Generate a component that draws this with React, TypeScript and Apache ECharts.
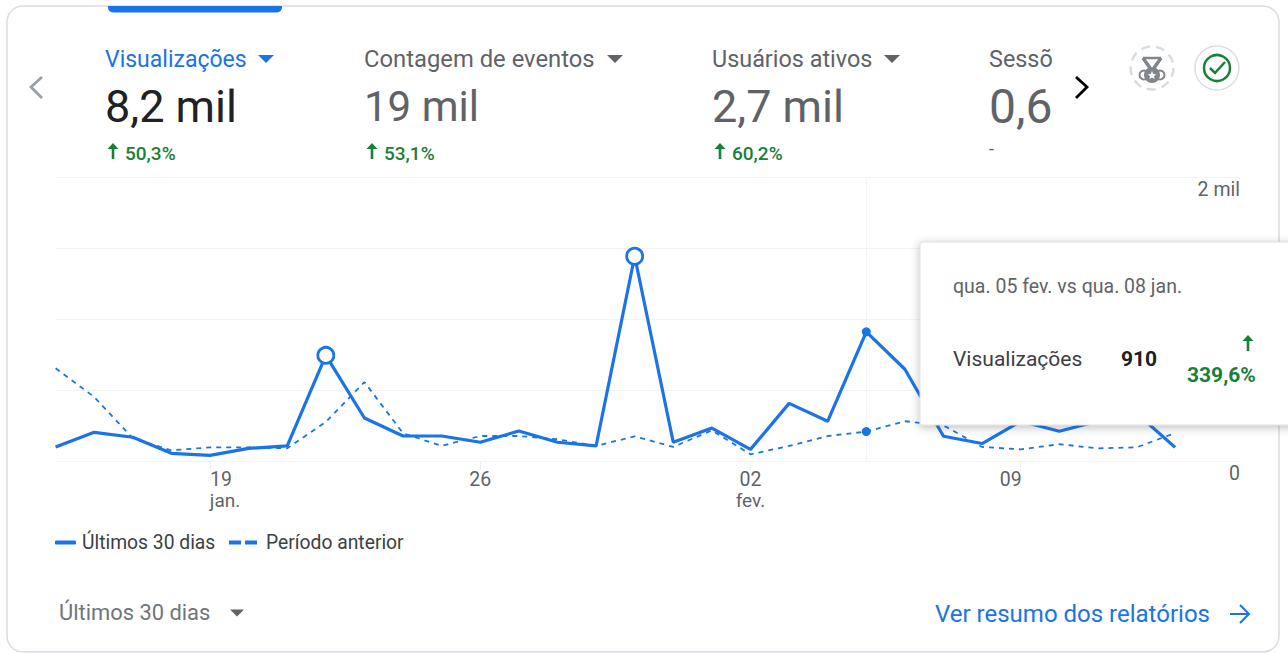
import React, { useEffect, useRef } from "react";
import * as echarts from "echarts";

const dayIndex = Array.from({ length: 30 }, (_, i) => i);
const currentValues = [99, 202, 167, 54, 40, 89, 106, 744, 303, 176, 176, 132, 211, 132, 106, 1442, 132, 232, 82, 406, 280, 910, 646, 174, 123, 280, 209, 280, 336, 96];
const previousValues = [653, 451, 160, 75, 96, 96, 89, 275, 556, 195, 106, 176, 176, 153, 106, 174, 99, 216, 47, 106, 176, 207, 280, 251, 99, 82, 118, 89, 96, 197];
const tickLabels: Record<number, [string, string]> = { 4: ["19", "jan."], 11: ["26", ""], 18: ["02", "fev."], 25: ["09", ""] };
const hollowDays = [7, 15];
const hoverDay = 21;
const currentName = "Últimos 30 dias";
const previousName = "Período anterior";
const metrics = [
  { label: "Visualizações", value: "8,2 mil", delta: "50,3%", active: true },
  { label: "Contagem de eventos", value: "19 mil", delta: "53,1%", active: false },
  { label: "Usuários ativos", value: "2,7 mil", delta: "60,2%", active: false },
  { label: "Sessões", value: "0,6 mil", delta: "-", active: false },
];

const BLUE = "#1a73e8";
const GREEN = "#188038";
const GRAY = "#5f6368";
const FONT = "Roboto";
const metricX = [105, 364, 712, 989];
const labelSizes = [23, 23.8, 23.4, 23.4];
const valueSizes = [45, 42, 45, 48];

const txt = (x: number, y: number, text: string, fontSize: number, fill: string, extra: any = {}) => ({
  type: "text", x, y, z: 100,
  style: { text, fontSize, fill, fontFamily: FONT, verticalAlign: "middle", align: "left", ...extra },
});
const caret = (cx: number, cy: number, w: number, fill: string) => ({
  type: "polygon", z: 100,
  shape: { points: [[cx - w / 2, cy - w / 4], [cx + w / 2, cy - w / 4], [cx, cy + w / 4]] },
  style: { fill },
});
const poly = (points: number[][], stroke: string, lineWidth: number, z = 100) => ({
  type: "polyline", z, shape: { points }, style: { stroke, lineWidth, fill: "none" },
});
const upArrow = (cx: number, top: number, h: number, color: string, z = 100) => [
  { type: "rect", z, shape: { x: cx - 1.3, y: top + 4, width: 2.6, height: h - 4 }, style: { fill: color } },
  { type: "polygon", z, shape: { points: [[cx, top], [cx + 5.5, top + 6], [cx - 5.5, top + 6]] }, style: { fill: color } },
];

function buildGraphics() {
  const els: any[] = [];
  els.push({ type: "rect", z: -1, shape: { x: 7, y: 6, width: 1272, height: 646, r: 16 }, style: { fill: "#fff", stroke: "#dadce0", lineWidth: 1.5 } });
  els.push({ type: "rect", z: 100, shape: { x: 108, y: 6, width: 174, height: 6.5, r: [0, 0, 5, 5] }, style: { fill: BLUE } });
  metrics.forEach((m, i) => {
    const x = metricX[i];
    els.push(txt(x, 59, m.label, labelSizes[i], m.active ? BLUE : GRAY));
    els.push(txt(x, 106, m.value, valueSizes[i], m.active ? "#202124" : GRAY));
    if (m.delta === "-") {
      els.push(txt(x, 148, m.delta, 18, GRAY));
    } else {
      els.push(...upArrow(x + 8, 143, 16, GREEN));
      els.push(txt(x + 20, 153, m.delta, 19, GREEN, { fontWeight: 500 }));
    }
  });
  els.push(caret(266, 59, 16, BLUE), caret(615, 59, 16, GRAY), caret(892, 59, 16, GRAY));
  els.push({ type: "rect", z: 101, shape: { x: 1053, y: 40, width: 80, height: 90 }, style: { fill: "#fff" } });
  els.push({ ...poly([[42, 77], [31, 87], [42, 98]], "#9aa0a6", 2.8) });
  els.push({ ...poly([[1076, 77], [1087, 87], [1076, 98]], "#000", 2.8), z: 102 });
  // medal badge
  els.push({ type: "circle", z: 102, shape: { cx: 1152, cy: 68, r: 21.5 }, style: { fill: "#fff", stroke: "#dadce0", lineWidth: 2.5, lineDash: [9, 6] } });
  els.push({ ...poly([[1143, 58], [1150, 68]], "#80868b", 3.5), z: 103 });
  els.push({ ...poly([[1161, 58], [1154, 68]], "#80868b", 3.5), z: 103 });
  els.push({ ...poly([[1143, 58], [1161, 58]], "#80868b", 2.5), z: 103 });
  els.push({ type: "circle", z: 103, shape: { cx: 1144, cy: 75, r: 4.5 }, style: { fill: "#fff", stroke: "#80868b", lineWidth: 2 } });
  els.push({ type: "circle", z: 103, shape: { cx: 1160, cy: 75, r: 4.5 }, style: { fill: "#fff", stroke: "#80868b", lineWidth: 2 } });
  els.push({ type: "circle", z: 104, shape: { cx: 1152, cy: 75, r: 8 }, style: { fill: "#80868b" } });
  els.push({ type: "polygon", z: 105, shape: { points: [[1152, 71], [1153.2, 74], [1156, 74.3], [1154, 76.2], [1154.6, 79], [1152, 77.6], [1149.4, 79], [1150, 76.2], [1148, 74.3], [1150.8, 74]] }, style: { fill: "#fff" } });
  // check badge
  els.push({ type: "circle", z: 102, shape: { cx: 1217, cy: 68, r: 22 }, style: { fill: "#fff", stroke: "#dadce0", lineWidth: 1.5 } });
  els.push({ type: "circle", z: 103, shape: { cx: 1217, cy: 68, r: 13 }, style: { fill: "none", stroke: GREEN, lineWidth: 2.5 } });
  els.push({ ...poly([[1210, 68], [1215, 73], [1225, 62]], GREEN, 2.5), z: 103 });
  // tooltip
  els.push({ type: "rect", z: 110, shape: { x: 920, y: 242, width: 420, height: 183, r: 2 }, style: { fill: "#fff", stroke: "#e0e0e0", lineWidth: 1, shadowBlur: 8, shadowColor: "rgba(60,64,67,0.35)", shadowOffsetY: 2 } });
  const tip = (e: any) => ({ ...e, z: 111 });
  els.push(tip(txt(953, 286, "qua. 05 fev. vs qua. 08 jan.", 19.5, GRAY)));
  els.push(tip(txt(953, 359, "Visualizações", 21, "#3c4043")));
  els.push(tip(txt(1121, 359, "910", 21, "#202124", { fontWeight: 700 })));
  els.push(...upArrow(1248, 335, 16, GREEN, 111));
  els.push(tip(txt(1187, 375, "339,6%", 21, GREEN, { fontWeight: 700 })));
  // footer
  els.push(txt(59, 612, currentName, 21.9, "#70757a"));
  els.push(caret(237, 613, 14, GRAY));
  els.push(txt(935, 614, "Ver resumo dos relatórios", 24, BLUE));
  els.push(poly([[1230, 614], [1248, 614]], BLUE, 2));
  els.push(poly([[1240, 605], [1249, 614], [1240, 623]], BLUE, 2));
  return els;
}

function points(values: number[], hollow: number[], dotSize: number) {
  return values.map((v, i) => {
    if (hollow.includes(i)) {
      return { value: [dayIndex[i], v], symbol: "circle", symbolSize: 16, itemStyle: { color: "#fff", borderColor: BLUE, borderWidth: 2.8, opacity: 1 } };
    }
    if (i === hoverDay) {
      return { value: [dayIndex[i], v], symbol: "circle", symbolSize: dotSize, itemStyle: { color: BLUE, borderWidth: 0, opacity: 1 } };
    }
    return { value: [dayIndex[i], v], symbol: "none" };
  });
}

const labelRich = {
  d: { color: GRAY, fontFamily: FONT, fontSize: 19.5, lineHeight: 21 },
  jan: { color: GRAY, fontFamily: FONT, fontSize: 19, lineHeight: 21, padding: [0, 0, 0, 30] },
  day19: { color: GRAY, fontFamily: FONT, fontSize: 19.5, lineHeight: 21, padding: [0, 0, 0, 22] },
  day09: { color: GRAY, fontFamily: FONT, fontSize: 19.5, lineHeight: 21, padding: [0, 20, 0, 0] },
  fev: { color: GRAY, fontFamily: FONT, fontSize: 19, lineHeight: 21 },
};

export default function App() {
  const ref = useRef<HTMLDivElement>(null);
  useEffect(() => {
    document.body.style.margin = "0";
    document.documentElement.style.overflow = "hidden";
    const chart = echarts.init(ref.current!, undefined, { renderer: "svg" });
    const legendText = { color: "#3c4043", fontFamily: FONT, fontSize: 19.3 };
    chart.setOption({
      animation: false,
      backgroundColor: "transparent",
      grid: { left: 55.6, right: 48, top: 177, height: 284, containLabel: false },
      legend: [
        {
          data: [{ name: currentName, icon: "roundRect" }], left: 55, top: 533, itemWidth: 21, itemHeight: 4, padding: 0,
          textStyle: { ...legendText, padding: [0, 0, 0, 1] }, selectedMode: false,
        },
        {
          data: [{ name: previousName, icon: "path://M0 0h12v4H0zM16 0h12v4H16z" }], left: 229, top: 533, itemWidth: 28, itemHeight: 4, padding: 0,
          textStyle: { ...legendText, padding: [0, 0, 0, 4] }, selectedMode: false,
        },
      ],
      xAxis: {
        type: "value", min: 0, max: 30.68,
        splitLine: { show: false },
        axisLine: { show: true, lineStyle: { color: "#f1f3f4", width: 1 }, onZero: true },
        axisTick: { show: true, customValues: Object.keys(tickLabels).map(Number), length: 9, lineStyle: { color: "#eceef0" } },
        axisLabel: {
          customValues: Object.keys(tickLabels).map(Number),
          margin: 8,
          color: GRAY, fontFamily: FONT, fontSize: 19.5,
          showMinLabel: true, showMaxLabel: true,
          rich: labelRich,
          formatter: (v: number) => {
            const t = tickLabels[v];
            if (!t) return "";
            if (t[0] === "19") return `{day19|${t[0]}}\n{jan|${t[1]}}`;
            if (t[0] === "09") return `{day09|${t[0]}}`;
            if (t[1]) return `{d|${t[0]}}\n{fev|${t[1]}}`;
            return `{d|${t[0]}}`;
          },
        },
      },
      yAxis: {
        type: "value", min: 0, max: 2000, interval: 500, position: "right",
        axisLine: { show: false }, axisTick: { show: false },
        splitLine: { show: true, lineStyle: { color: "#f1f3f4", width: 1 } },
        axisLabel: {
          inside: true, margin: 0, align: "right", verticalAlign: "top", padding: [2, 0, 0, 0],
          customValues: [0, 2000],
          color: GRAY, fontFamily: FONT, fontSize: 19.5,
          formatter: (v: number) => (v === 2000 ? "2 mil" : String(v)),
        },
      },
      series: [
        {
          name: previousName, type: "line", z: 3, symbol: "none", showSymbol: true, showAllSymbol: true,
          color: BLUE, lineStyle: { color: BLUE, width: 1.8, type: [5, 5] },
          data: points(previousValues, [], 9),
          markLine: {
            silent: true, symbol: "none", label: { show: false }, z: 1,
            lineStyle: { color: "#f1f3f4", width: 1, type: "solid" },
            data: [{ xAxis: dayIndex[hoverDay] }],
          },
        },
        {
          name: currentName, type: "line", z: 4, symbol: "none", showSymbol: true, showAllSymbol: true,
          color: BLUE, lineStyle: { color: BLUE, width: 3.2 },
          data: points(currentValues, hollowDays, 9),
        },
      ],
      graphic: { elements: buildGraphics() },
    });
    return () => chart.dispose();
  }, []);
  return <div ref={ref} style={{ position: "absolute", left: 0, top: 0, width: 1288, height: 653 }} />;
}
